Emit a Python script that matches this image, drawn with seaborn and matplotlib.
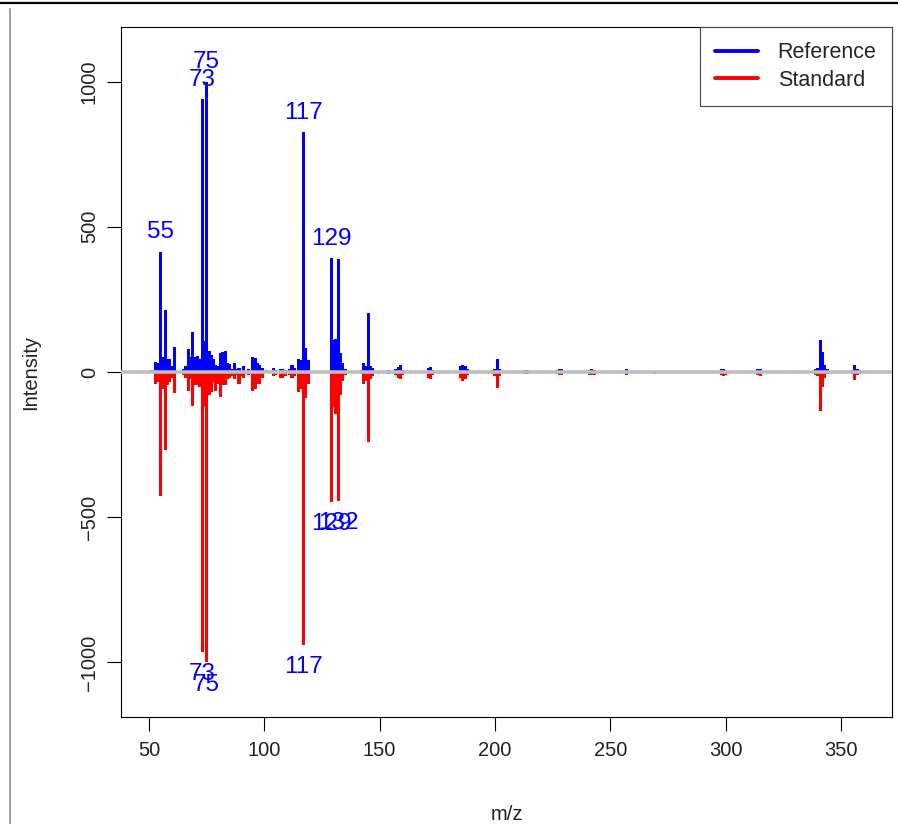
import pandas as pd
import matplotlib.pyplot as plt
from matplotlib.lines import Line2D
import seaborn as sns

# m/z values and intensities (standard is drawn downwards)
mz = [50, 51, 52, 53, 54, 55, 56, 57, 58, 59, 60, 61, 62, 63, 65, 66, 67, 68, 69, 70,
      71, 72, 73, 74, 75, 76, 77, 78, 79, 80, 81, 82, 83, 84, 85, 86, 87, 88, 89, 90,
      91, 93, 95, 96, 97, 98, 99, 100, 101, 103, 104, 105, 107, 108, 109, 111, 112, 113, 115, 116,
      117, 118, 119, 120, 121, 122, 123, 124, 125, 127, 129, 130, 131, 132, 133, 134, 135, 137, 139, 141,
      142, 143, 144, 145, 146, 147, 148, 151, 154, 155, 157, 158, 159, 160, 163, 167, 168, 171, 172, 173,
      174, 179, 183, 185, 186, 187, 188, 189, 191, 193, 195, 196, 199, 200, 201, 202, 203, 207, 209, 210,
      211, 213, 214, 215, 217, 223, 226, 227, 228, 229, 230, 237, 240, 241, 242, 243, 244, 247, 256, 257,
      258, 260, 266, 268, 269, 270, 271, 281, 283, 284, 285, 286, 297, 298, 299, 300, 301, 312, 313, 314,
      315, 316, 326, 327, 328, 329, 339, 340, 341, 342, 343, 344, 355, 356, 357, 358]
reference = [3, 8, 5, 35, 30, 414, 50, 213, 45, 45, 20, 86, 5, 3, 12, 20, 78, 50, 139, 50,
             55, 45, 940, 108, 1000, 73, 60, 45, 25, 20, 66, 70, 72, 30, 28, 10, 30, 10, 15, 5,
             20, 10, 50, 48, 30, 25, 15, 5, 8, 5, 15, 8, 12, 10, 8, 10, 25, 15, 45, 40,
             826, 82, 40, 5, 5, 5, 5, 5, 5, 5, 392, 110, 115, 390, 65, 30, 10, 3, 3, 5,
             8, 30, 20, 203, 20, 15, 5, 5, 8, 5, 12, 18, 25, 8, 3, 5, 5, 15, 18, 8,
             5, 3, 5, 22, 25, 20, 10, 5, 4, 3, 5, 5, 8, 12, 45, 12, 5, 3, 5, 4,
             5, 8, 8, 5, 3, 4, 5, 6, 10, 10, 5, 3, 4, 8, 10, 8, 3, 3, 5, 10,
             5, 5, 3, 5, 5, 5, 5, 3, 5, 5, 5, 3, 5, 10, 12, 8, 5, 3, 5, 10,
             12, 5, 3, 3, 5, 3, 10, 15, 111, 68, 25, 10, 8, 23, 12, 8]
standard = [2, 5, 3, 40, 35, 427, 60, 270, 45, 35, 20, 72, 5, 3, 10, 20, 64, 25, 117, 45,
            45, 50, 965, 120, 1000, 80, 70, 35, 64, 40, 85, 45, 45, 25, 20, 15, 25, 10, 40, 15,
            20, 10, 64, 60, 40, 40, 20, 5, 5, 5, 15, 10, 20, 20, 15, 10, 20, 15, 70, 60,
            940, 90, 40, 5, 5, 3, 5, 5, 3, 5, 448, 120, 145, 444, 80, 30, 10, 3, 3, 3,
            8, 40, 30, 241, 25, 15, 5, 5, 8, 5, 10, 20, 25, 10, 3, 5, 5, 22, 25, 10,
            3, 3, 3, 20, 30, 25, 12, 5, 4, 3, 5, 3, 8, 15, 56, 15, 5, 3, 5, 4,
            5, 8, 8, 5, 3, 4, 5, 6, 10, 12, 5, 3, 4, 10, 12, 10, 3, 3, 5, 12,
            5, 5, 3, 5, 8, 5, 5, 3, 5, 5, 5, 3, 5, 12, 15, 10, 5, 3, 5, 12,
            15, 5, 3, 3, 3, 3, 10, 15, 133, 53, 20, 8, 8, 28, 12, 8]
ref_labels = [55, 73, 75, 117, 129]
std_labels = [73, 75, 117, 129, 132]

sns.set_theme(style="ticks")
plt.rcParams['font.family'] = ['Liberation Sans', 'DejaVu Sans']

df = pd.DataFrame({
    'mz': mz + mz,
    'intensity': reference + [-v for v in standard],
    'spectrum': ['Reference'] * len(mz) + ['Standard'] * len(mz),
})

fig = plt.figure(figsize=(8.98, 8.24), dpi=100)
ax = fig.add_axes([121 / 898, 1 - 717 / 824, 771 / 898, 690 / 824])

sns.barplot(data=df, x='mz', y='intensity', hue='spectrum',
            palette={'Reference': 'blue', 'Standard': 'red'},
            native_scale=True, dodge=False, width=1.35, errorbar=None,
            saturation=1, linewidth=0, legend=False, ax=ax)
ax.axhline(0, color='#BEBEBE', lw=2.6, zorder=5)

ref_map = dict(zip(mz, reference))
std_map = dict(zip(mz, standard))
for m in ref_labels:
    ax.annotate(str(m), (m, ref_map[m]), xytext=(0, 14), textcoords='offset points',
                ha='center', va='center', color='blue', fontsize=17.5)
for m in std_labels:
    ax.annotate(str(m), (m, -std_map[m]), xytext=(0, -16), textcoords='offset points',
                ha='center', va='center', color='blue', fontsize=17.5)

ax.set_xlim(37.86, 372.1)
ax.set_ylim(-1188, 1188)
ax.set_xticks([50, 100, 150, 200, 250, 300, 350])
ax.set_yticks([-1000, -500, 0, 500, 1000])
ax.tick_params(direction='out', length=10, width=0.8, color='black',
               labelsize=14.5, labelcolor='#222222')
ax.tick_params(axis='x', pad=7)
ax.tick_params(axis='y', labelrotation=90, pad=6)
for lab in ax.get_yticklabels():
    lab.set_va('center')
for sp in ax.spines.values():
    sp.set_visible(True)
    sp.set_color('black')
    sp.set_linewidth(0.8)

ax.set_xlabel('m/z', fontsize=14.5, color='#222222')
ax.set_ylabel('Intensity', fontsize=14.5, color='#222222')
ax.xaxis.set_label_coords(0.5, -0.127)
ax.yaxis.set_label_coords(-0.105, 0.5)

handles = [Line2D([], [], color='blue', lw=2.8), Line2D([], [], color='red', lw=2.8)]
leg = ax.legend(handles, ['Reference', 'Standard'], loc='upper right', borderaxespad=0,
                fancybox=False, framealpha=1, edgecolor='#444444', fontsize=15.5,
                handlelength=2.0, handletextpad=0.9, borderpad=0.72, labelspacing=0.3)
leg.get_frame().set_linewidth(0.8)

# frame lines of the original screenshot
fig.add_artist(Line2D([0, 1], [1 - 3 / 824, 1 - 3 / 824], color='black', lw=1.6, transform=fig.transFigure))
fig.add_artist(Line2D([10 / 898, 10 / 898], [0, 1 - 9 / 824], color='#A0A0A0', lw=1.4, transform=fig.transFigure))

fig.savefig('out.png', dpi=100)
